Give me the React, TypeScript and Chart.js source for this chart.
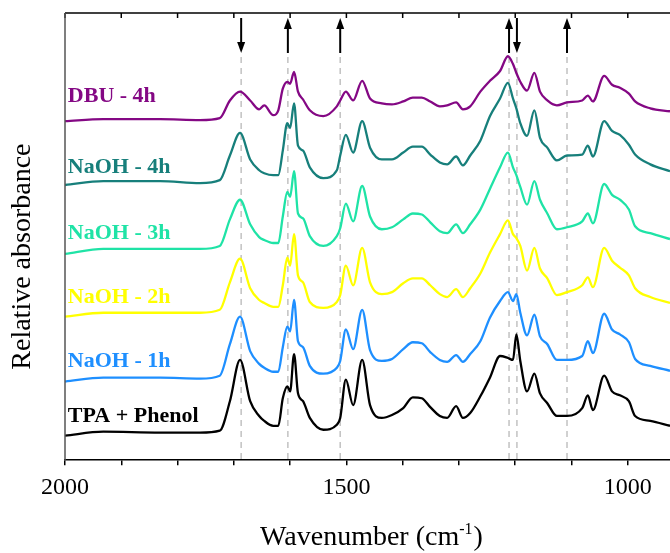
import React, { useEffect, useRef } from 'react';
import { Chart, registerables } from 'chart.js';

Chart.register(...registerables);

// Wavenumber grid (cm^-1), shared by all spectra
const wavenumbers = [2000, 1932, 1831, 1760, 1725, 1707, 1689, 1671, 1655, 1646,
  1630, 1621, 1613, 1605, 1600, 1593, 1586, 1577, 1565, 1541,
  1517, 1511, 1501, 1488, 1472, 1458, 1437, 1419, 1399, 1382,
  1366, 1351, 1334, 1321, 1305, 1293, 1280, 1262, 1245, 1227,
  1213, 1204, 1198, 1191, 1179, 1166, 1156, 1143, 1126, 1108,
  1081, 1071, 1062, 1042, 1028, 1014, 998, 987, 960, 925];

// Stacked relative absorbance for each sample
const dbu4h = [3.45, 3.47, 3.47, 3.46, 3.48, 3.66, 3.75, 3.66, 3.57, 3.61,
  3.51, 3.56, 3.78, 3.85, 3.83, 3.95, 3.75, 3.67, 3.56, 3.50,
  3.60, 3.66, 3.75, 3.66, 3.86, 3.68, 3.63, 3.62, 3.65, 3.69,
  3.69, 3.65, 3.60, 3.61, 3.64, 3.57, 3.60, 3.75, 3.86, 3.96,
  4.11, 4.03, 3.94, 3.85, 3.76, 3.94, 3.75, 3.66, 3.61, 3.64,
  3.66, 3.71, 3.65, 3.91, 3.82, 3.79, 3.73, 3.65, 3.58, 3.55];

const naoh4h = [2.80, 2.84, 2.84, 2.82, 2.85, 3.10, 3.33, 3.06, 2.95, 2.92,
  2.90, 2.90, 3.15, 3.43, 3.38, 3.63, 3.20, 3.15, 2.98, 2.87,
  2.95, 3.10, 3.31, 3.13, 3.45, 3.18, 3.06, 3.06, 3.13, 3.19,
  3.19, 3.11, 3.03, 3.01, 3.09, 3.00, 3.10, 3.25, 3.50, 3.68,
  3.84, 3.68, 3.58, 3.43, 3.30, 3.56, 3.28, 3.18, 3.05, 3.10,
  3.11, 3.20, 3.09, 3.45, 3.35, 3.31, 3.21, 3.11, 3.01, 2.94];

const naoh3h = [2.10, 2.15, 2.15, 2.15, 2.18, 2.45, 2.65, 2.40, 2.27, 2.24,
  2.21, 2.21, 2.48, 2.73, 2.68, 2.94, 2.51, 2.46, 2.28, 2.18,
  2.28, 2.36, 2.61, 2.43, 2.79, 2.48, 2.35, 2.37, 2.45, 2.51,
  2.50, 2.42, 2.33, 2.31, 2.40, 2.31, 2.40, 2.55, 2.76, 2.98,
  3.13, 2.98, 2.90, 2.78, 2.60, 2.84, 2.65, 2.51, 2.35, 2.37,
  2.43, 2.51, 2.41, 2.81, 2.70, 2.65, 2.55, 2.38, 2.31, 2.25];

const naoh2h = [1.46, 1.50, 1.50, 1.50, 1.53, 1.81, 2.05, 1.75, 1.63, 1.60,
  1.56, 1.56, 1.78, 2.06, 1.98, 2.30, 1.88, 1.81, 1.61, 1.55,
  1.61, 1.68, 1.98, 1.78, 2.16, 1.81, 1.69, 1.71, 1.80, 1.85,
  1.85, 1.78, 1.69, 1.66, 1.74, 1.66, 1.75, 1.90, 2.11, 2.30,
  2.44, 2.30, 2.26, 2.18, 1.93, 2.16, 1.95, 1.85, 1.68, 1.71,
  1.78, 1.86, 1.76, 2.16, 2.03, 1.96, 1.88, 1.75, 1.66, 1.60];

const naoh1h = [0.80, 0.84, 0.84, 0.83, 0.86, 1.18, 1.46, 1.11, 0.98, 0.94,
  0.90, 0.90, 1.15, 1.36, 1.31, 1.63, 1.21, 1.15, 0.96, 0.88,
  0.94, 1.01, 1.33, 1.13, 1.53, 1.12, 1.01, 1.03, 1.13, 1.20,
  1.19, 1.10, 1.02, 1.00, 1.07, 1.00, 1.08, 1.21, 1.45, 1.62,
  1.71, 1.62, 1.69, 1.50, 1.27, 1.48, 1.26, 1.18, 1.02, 1.02,
  1.06, 1.21, 1.09, 1.49, 1.33, 1.28, 1.20, 1.03, 0.96, 0.91];

const tpaPhenol = [0.25, 0.29, 0.28, 0.28, 0.30, 0.60, 1.02, 0.60, 0.45, 0.40,
  0.35, 0.35, 0.63, 0.75, 0.70, 1.08, 0.68, 0.60, 0.43, 0.31,
  0.36, 0.43, 0.82, 0.56, 1.02, 0.56, 0.43, 0.46, 0.53, 0.64,
  0.63, 0.54, 0.45, 0.43, 0.55, 0.43, 0.48, 0.65, 0.84, 1.06,
  1.04, 1.02, 1.28, 1.01, 0.70, 0.88, 0.68, 0.58, 0.45, 0.45,
  0.53, 0.66, 0.51, 0.86, 0.70, 0.66, 0.60, 0.45, 0.40, 0.35];

const seriesNames = ['DBU - 4h', 'NaOH - 4h', 'NaOH - 3h', 'NaOH - 2h', 'NaOH - 1h', 'TPA + Phenol'];
const seriesValues = [dbu4h, naoh4h, naoh3h, naoh2h, naoh1h, tpaPhenol];
const seriesColors = ['#840884', '#177f7b', '#1fe3a6', '#ffff00', '#1e8fff', '#000000'];
const labelLevels = [3.70, 2.98, 2.31, 1.66, 1.01, 0.45];
const labelWavenumber = 1995;

// Axis ticks
const tickValues = [2000, 1900, 1800, 1700, 1600, 1500, 1400, 1300, 1200, 1100, 1000];
const labeledTicks = [2000, 1500, 1000];
const xMin = 925;
const xMax = 2000;
const yMin = 0;
const yMax = 4.55;

// Marked bands: dashed guide lines with arrows (up = increase, down = decrease)
const markerWavenumbers = [1687, 1604, 1511, 1211, 1197, 1108];
const markerDirections = ['down', 'up', 'up', 'up', 'down', 'up'];

const xTitle = 'Wavenumber (cm';
const xTitleSup = '-1';
const yTitle = 'Relative absorbance';

const FONT = "'Liberation Serif', 'Times New Roman', Times, serif";

const annotations = {
  id: 'ftirAnnotations',
  beforeDatasetsDraw(chart: any) {
    const { ctx, chartArea, scales } = chart;
    const x = scales.x;
    ctx.save();
    ctx.strokeStyle = '#c2c2c2';
    ctx.lineWidth = 1.5;
    ctx.setLineDash([6, 5]);
    markerWavenumbers.forEach((w) => {
      const px = x.getPixelForValue(w);
      ctx.beginPath();
      ctx.moveTo(px, chartArea.top + 44);
      ctx.lineTo(px, chartArea.bottom);
      ctx.stroke();
    });
    ctx.restore();
  },
  afterDraw(chart: any) {
    const { ctx, chartArea, scales } = chart;
    const x = scales.x;
    const y = scales.y;
    ctx.save();

    // frame: top and left lines, top ticks
    ctx.strokeStyle = '#000';
    ctx.lineWidth = 1.5;
    ctx.beginPath();
    ctx.moveTo(chartArea.left, chartArea.top);
    ctx.lineTo(chartArea.right, chartArea.top);
    ctx.stroke();
    tickValues.forEach((v) => {
      const px = x.getPixelForValue(v);
      ctx.beginPath();
      ctx.moveTo(px, chartArea.top);
      ctx.lineTo(px, chartArea.top + 5);
      ctx.stroke();
    });
    ctx.strokeStyle = '#555';
    ctx.beginPath();
    ctx.moveTo(chartArea.left, chartArea.top);
    ctx.lineTo(chartArea.left, chartArea.bottom);
    ctx.stroke();

    // arrows
    ctx.strokeStyle = '#000';
    ctx.fillStyle = '#000';
    ctx.lineWidth = 2;
    const aTop = chartArea.top + 5;
    const aBot = chartArea.top + 40;
    markerWavenumbers.forEach((w, i) => {
      const px = x.getPixelForValue(w);
      const up = markerDirections[i] === 'up';
      ctx.beginPath();
      if (up) {
        ctx.moveTo(px, aTop + 8);
        ctx.lineTo(px, aBot);
      } else {
        ctx.moveTo(px, aTop);
        ctx.lineTo(px, aBot - 8);
      }
      ctx.stroke();
      ctx.beginPath();
      if (up) {
        ctx.moveTo(px, aTop);
        ctx.lineTo(px - 4, aTop + 11);
        ctx.lineTo(px + 4, aTop + 11);
      } else {
        ctx.moveTo(px, aBot);
        ctx.lineTo(px - 4, aBot - 11);
        ctx.lineTo(px + 4, aBot - 11);
      }
      ctx.closePath();
      ctx.fill();
    });

    // series labels
    ctx.font = `bold 22px ${FONT}`;
    ctx.textAlign = 'left';
    ctx.textBaseline = 'middle';
    seriesNames.forEach((name, i) => {
      ctx.fillStyle = seriesColors[i];
      ctx.fillText(name, x.getPixelForValue(labelWavenumber), y.getPixelForValue(labelLevels[i]));
    });

    // x title with superscript
    ctx.fillStyle = '#000';
    ctx.textBaseline = 'alphabetic';
    const mainFont = `28px ${FONT}`;
    const supFont = `16px ${FONT}`;
    ctx.font = mainFont;
    const w1 = ctx.measureText(xTitle).width;
    const w3 = ctx.measureText(')').width;
    ctx.font = supFont;
    const w2 = ctx.measureText(xTitleSup).width;
    const total = w1 + w2 + w3 + 1;
    const cx = (chartArea.left + chartArea.right) / 2 + 4;
    const base = chart.height - 8;
    let sx = cx - total / 2;
    ctx.font = mainFont;
    ctx.fillText(xTitle, sx, base);
    sx += w1;
    ctx.font = supFont;
    ctx.fillText(xTitleSup, sx, base - 11);
    sx += w2 + 1;
    ctx.font = mainFont;
    ctx.fillText(')', sx, base);

    // y title
    ctx.translate(23, (chartArea.top + chartArea.bottom) / 2 + 20);
    ctx.rotate(-Math.PI / 2);
    ctx.font = `28px ${FONT}`;
    ctx.textAlign = 'center';
    ctx.textBaseline = 'middle';
    ctx.fillText(yTitle, 0, 0);

    ctx.restore();
  },
};

export default function App() {
  const canvasRef = useRef<HTMLCanvasElement | null>(null);

  useEffect(() => {
    if (!canvasRef.current) return;
    Chart.defaults.font.family = FONT;
    const datasets = seriesNames.map((name, i) => ({
      label: name,
      data: wavenumbers.map((w, j) => ({ x: w, y: seriesValues[i][j] })),
      borderColor: seriesColors[i],
      backgroundColor: seriesColors[i],
      borderWidth: 2.3,
      pointRadius: 0,
      fill: false,
      cubicInterpolationMode: 'monotone' as const,
    }));
    const chart = new Chart(canvasRef.current, {
      type: 'line',
      data: { datasets },
      options: {
        responsive: false,
        animation: false,
        devicePixelRatio: 1,
        layout: { padding: { left: 65, top: 13, right: 0, bottom: 43 } },
        plugins: { legend: { display: false }, tooltip: { enabled: false } },
        scales: {
          x: {
            type: 'linear',
            reverse: true,
            min: xMin,
            max: xMax,
            afterBuildTicks: (scale: any) => {
              scale.ticks = tickValues.map((v) => ({ value: v }));
            },
            grid: {
              display: true,
              drawOnChartArea: false,
              drawTicks: true,
              tickLength: 5,
              color: '#000',
              lineWidth: 1.5,
            },
            border: { display: true, color: '#000', width: 1.5 },
            ticks: {
              autoSkip: false,
              maxRotation: 0,
              padding: 8,
              color: '#000',
              font: { size: 24, family: FONT },
              callback: (v: any) => (labeledTicks.includes(Number(v)) ? String(v) : ''),
            },
            title: { display: false },
          },
          y: {
            display: false,
            min: yMin,
            max: yMax,
          },
        },
      },
      plugins: [annotations],
    });
    return () => chart.destroy();
  }, []);

  return (
    <div style={{ position: 'absolute', left: 0, top: 0, width: 670, height: 553, background: '#fff' }}>
      <canvas ref={canvasRef} width={670} height={553} />
    </div>
  );
}
